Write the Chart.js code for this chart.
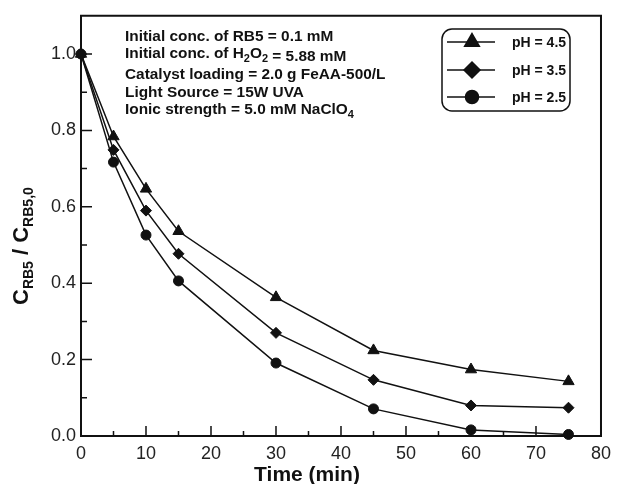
<!DOCTYPE html>
<html>
<head>
<meta charset="utf-8">
<script src="https://cdn.jsdelivr.net/npm/chart.js@4.4.0/dist/chart.umd.min.js"></script>
<style>
  html, body { margin: 0; padding: 0; background: #fff; }
  #wrap { width: 618px; height: 484px; }
</style>
</head>
<body>
<div id="wrap"><canvas id="chart" width="618" height="484"></canvas></div>
<script>
// data
const times = [0, 5, 10, 15, 30, 45, 60, 75];
const ph45 = [1.0, 0.784, 0.647, 0.536, 0.363, 0.224, 0.174, 0.143];
const ph35 = [1.0, 0.749, 0.590, 0.477, 0.270, 0.147, 0.080, 0.074];
const ph25 = [1.0, 0.717, 0.526, 0.406, 0.191, 0.071, 0.016, 0.004];
const seriesLabels = ['pH = 4.5', 'pH = 3.5', 'pH = 2.5'];

const xMajor = [0, 10, 20, 30, 40, 50, 60, 70, 80];
const xMinor = [5, 15, 25, 35, 45, 55, 65, 75];
const yMajor = [0, 0.2, 0.4, 0.6, 0.8, 1.0];
const yMinor = [0.1, 0.3, 0.5, 0.7, 0.9];

const FONT = "'Liberation Sans', Arial, Helvetica, sans-serif";
const INK = '#111';

const styles = [
  { pointStyle: 'triangle', radius: 6.5, legendRadius: 8.5 },
  { pointStyle: 'rectRot', radius: 5.5, legendRadius: 8 },
  { pointStyle: 'circle', radius: 5, legendRadius: 6.5 }
];

function makeSet(label, values, st) {
  return {
    label: label,
    data: times.map((t, i) => ({ x: t, y: values[i] })),
    borderColor: INK,
    backgroundColor: INK,
    borderWidth: 1.5,
    pointStyle: st.pointStyle,
    pointRadius: st.radius,
    pointBackgroundColor: INK,
    pointBorderColor: INK,
    pointBorderWidth: 1,
    tension: 0,
    clip: false,
    legendRadius: st.legendRadius
  };
}

// draws text runs with subscripts; returns end x
function runs(ctx, parts, x, y, size, subSize, subShift) {
  parts.forEach(p => {
    if (p.sub) {
      ctx.font = 'bold ' + subSize + 'px ' + FONT;
      ctx.fillText(p.t, x, y + subShift);
    } else {
      ctx.font = 'bold ' + size + 'px ' + FONT;
      ctx.fillText(p.t, x, y + (p.dy || 0));
    }
    x += ctx.measureText(p.t).width;
  });
  return x;
}

const decor = {
  id: 'decor',
  afterDraw(chart) {
    const ctx = chart.ctx;
    const a = chart.chartArea;
    const xs = chart.scales.x, ys = chart.scales.y;
    ctx.save();
    ctx.strokeStyle = INK;
    ctx.fillStyle = INK;

    // top and right frame
    ctx.lineWidth = 2;
    ctx.beginPath();
    ctx.moveTo(a.left - 1, a.top);
    ctx.lineTo(a.right, a.top);
    ctx.lineTo(a.right, a.bottom + 1);
    ctx.stroke();

    // inward ticks
    ctx.lineWidth = 1.5;
    ctx.beginPath();
    xMajor.forEach(v => { const px = xs.getPixelForValue(v); ctx.moveTo(px, a.bottom); ctx.lineTo(px, a.bottom - 10); });
    xMinor.forEach(v => { const px = xs.getPixelForValue(v); ctx.moveTo(px, a.bottom); ctx.lineTo(px, a.bottom - 5); });
    yMajor.forEach(v => { const py = ys.getPixelForValue(v); ctx.moveTo(a.left, py); ctx.lineTo(a.left + 11, py); });
    yMinor.forEach(v => { const py = ys.getPixelForValue(v); ctx.moveTo(a.left, py); ctx.lineTo(a.left + 6, py); });
    ctx.stroke();

    // x title
    ctx.textAlign = 'center';
    ctx.textBaseline = 'alphabetic';
    ctx.font = 'bold 21px ' + FONT;
    ctx.fillText('Time (min)', 307, 481);

    // y title, rotated
    ctx.save();
    ctx.translate(28, 305);
    ctx.rotate(-Math.PI / 2);
    ctx.textAlign = 'left';
    runs(ctx, [
      { t: 'C' }, { t: 'RB5', sub: true }, { t: ' / C' }, { t: 'RB5,0', sub: true }
    ], 0, 0, 22, 14, 5);
    ctx.restore();

    // conditions note
    ctx.textAlign = 'left';
    const nx = 125, fs = 15.4, ss = 11;
    runs(ctx, [{ t: 'Initial conc. of RB5 = 0.1 mM' }], nx, 41, fs, ss, 4);
    runs(ctx, [
      { t: 'Initial conc. of H' }, { t: '2', sub: true }, { t: 'O' }, { t: '2', sub: true },
      { t: ' = 5.88 mM', dy: 3 }
    ], nx, 57.5, fs, ss, 4);
    runs(ctx, [{ t: 'Catalyst loading = 2.0 g FeAA-500/L' }], nx, 78.5, fs, ss, 4);
    runs(ctx, [{ t: 'Light Source = 15W UVA' }], nx, 96.5, fs, ss, 4);
    runs(ctx, [{ t: 'Ionic strength = 5.0 mM NaClO' }, { t: '4', sub: true }], nx, 114, fs, ss, 4);

    // legend box
    ctx.lineWidth = 1.5;
    ctx.beginPath();
    ctx.roundRect(442, 29, 128, 82, 10);
    ctx.stroke();
    const rows = [42, 70, 97];
    chart.data.datasets.forEach((ds, i) => {
      const y = rows[i];
      ctx.lineWidth = 1.5;
      ctx.beginPath();
      ctx.moveTo(447, y);
      ctx.lineTo(495, y);
      ctx.stroke();
      Chart.helpers.drawPoint(ctx, {
        pointStyle: ds.pointStyle, radius: ds.legendRadius, rotation: 0, borderWidth: 1
      }, 472, y);
      ctx.fill();
      ctx.font = 'bold 14px ' + FONT;
      ctx.textBaseline = 'middle';
      ctx.fillText(ds.label, 512, y + 1);
      ctx.textBaseline = 'alphabetic';
    });
    ctx.restore();
  }
};

new Chart(document.getElementById('chart'), {
  type: 'line',
  data: {
    datasets: [
      makeSet(seriesLabels[0], ph45, styles[0]),
      makeSet(seriesLabels[1], ph35, styles[1]),
      makeSet(seriesLabels[2], ph25, styles[2])
    ]
  },
  options: {
    responsive: false,
    animation: false,
    devicePixelRatio: 1,
    layout: { padding: { left: 0, right: 15, top: 13, bottom: 0 } },
    plugins: { legend: { display: false }, tooltip: { enabled: false } },
    scales: {
      x: {
        type: 'linear',
        min: 0, max: 80,
        afterFit(s) { s.height = 48; },
        afterBuildTicks(s) { s.ticks = xMajor.map(v => ({ value: v })); },
        grid: { display: false, drawTicks: false },
        border: { display: true, color: INK, width: 2 },
        ticks: { color: '#222', padding: 7, font: { family: FONT, size: 18 }, maxRotation: 0, autoSkip: false,
                 callback: v => String(v) }
      },
      y: {
        type: 'linear',
        min: 0, max: 1.1,
        afterFit(s) { s.width = 81; },
        afterBuildTicks(s) { s.ticks = yMajor.map(v => ({ value: v })); },
        grid: { display: false, drawTicks: false },
        border: { display: true, color: INK, width: 2 },
        ticks: { color: '#222', padding: 5, font: { family: FONT, size: 18 }, autoSkip: false,
                 callback: v => v.toFixed(1) }
      }
    }
  },
  plugins: [decor]
});
</script>
</body>
</html>
